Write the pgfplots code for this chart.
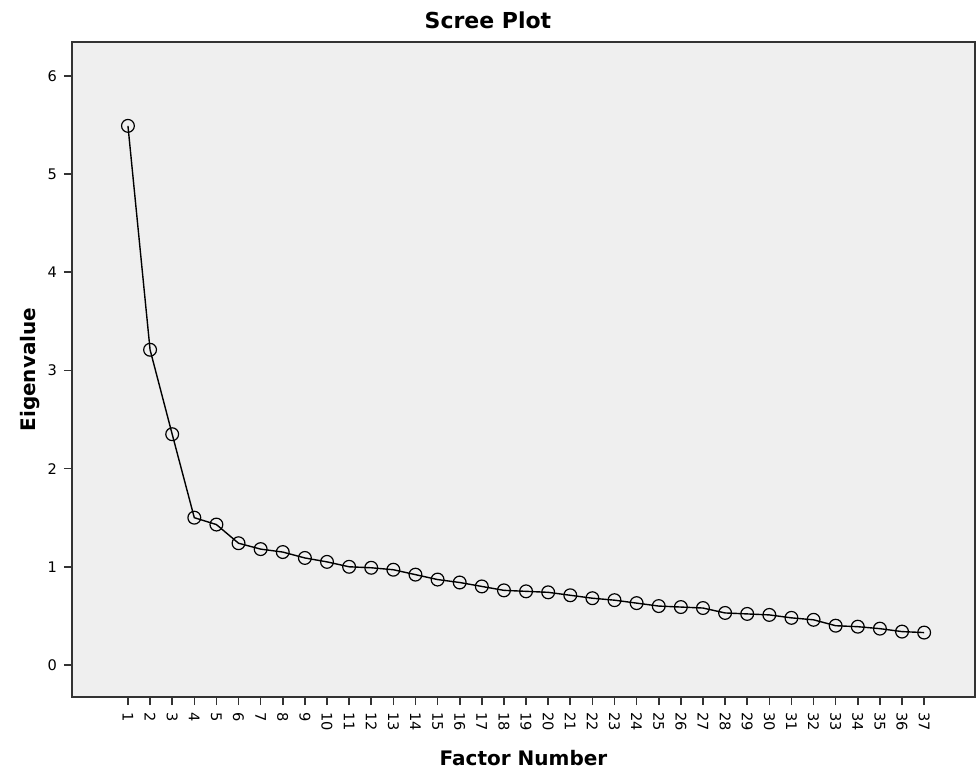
\documentclass[border=0pt]{standalone}
\usepackage{fontspec}
\setmainfont{DejaVu Sans}
\usepackage{pgfplots}
\pgfplotsset{compat=1.18}
\usetikzlibrary{calc}
\pgfplotstableread{
x y
1 5.49
2 3.21
3 2.35
4 1.50
5 1.43
6 1.24
7 1.18
8 1.15
9 1.09
10 1.05
11 1.00
12 0.99
13 0.97
14 0.92
15 0.87
16 0.84
17 0.80
18 0.76
19 0.75
20 0.74
21 0.71
22 0.68
23 0.66
24 0.63
25 0.60
26 0.59
27 0.58
28 0.53
29 0.52
30 0.51
31 0.48
32 0.46
33 0.40
34 0.39
35 0.37
36 0.34
37 0.33
}\scree
\definecolor{bg}{HTML}{EFEFEF}
\begin{document}
\begin{tikzpicture}
\begin{axis}[
  name=ax,
  scale only axis,
  width=451.5pt, height=327.5pt,
  xmin=-1.53, xmax=39.3,
  ymin=-0.326, ymax=6.344,
  axis background/.style={fill=bg},
  axis line style={black!80, line width=0.8pt},
  xtick={1,...,37},
  ytick={0,1,2,3,4,5,6},
  tick align=outside,
  tick pos=left,
  major tick length=4pt,
  tick style={black!80, line width=0.8pt},
  /pgf/number format/assume math mode=true,
  tick label style={font=\fontsize{7.3}{8}\selectfont},
  xticklabel style={rotate=-90, anchor=west},
  title={\bfseries Scree Plot},
  title style={font=\fontsize{11}{12}\selectfont, at={(0.5,1)}, anchor=south, yshift=-3pt, xshift=-17.75pt},
  xlabel={\bfseries Factor Number},
  ylabel={\bfseries Eigenvalue},
  label style={font=\fontsize{10}{12}\selectfont},
  xlabel style={yshift=-3pt},
  ylabel style={yshift=-3pt},
  clip=false,
]
\addplot[black, line width=0.7pt, mark=o, mark size=3.2pt, mark options={line width=0.6pt, fill=none}] table[x=x,y=y] {\scree};
\end{axis}
\pgfresetboundingbox
\path[use as bounding box] ($(ax.south west)+(-36pt,-37pt)$) rectangle ($(ax.north east)+(2pt,21pt)$);
\end{tikzpicture}
\end{document}
